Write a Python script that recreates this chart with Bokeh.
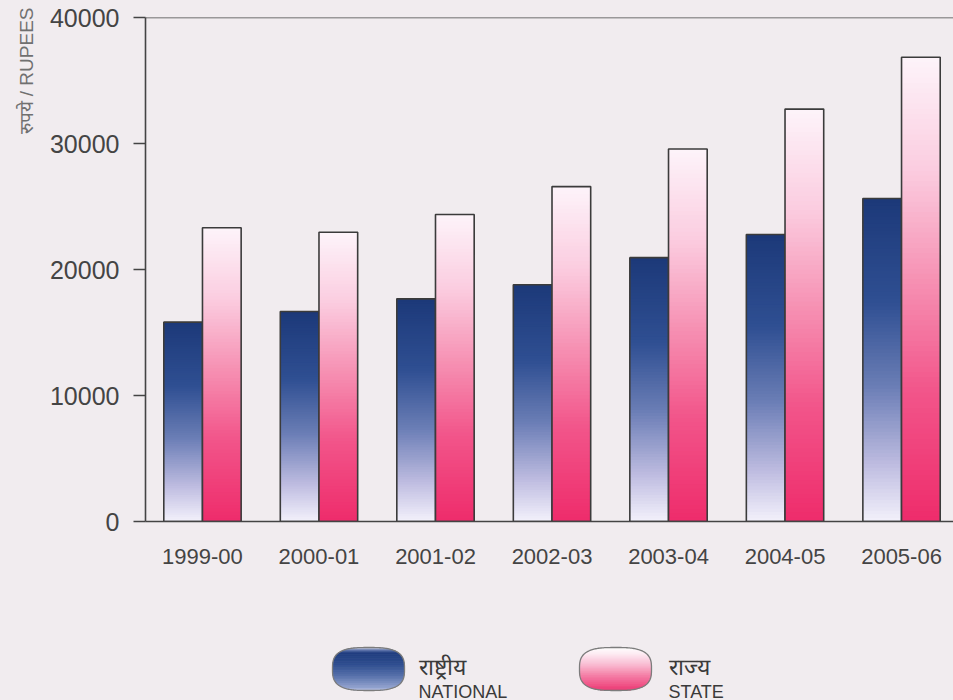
import numpy as np
from bokeh.plotting import figure
from bokeh.layouts import column
from bokeh.models import Range1d, FixedTicker, Span, Title, ColumnDataSource
from bokeh.core.properties import value
from bokeh.embed import file_html
from bokeh.resources import INLINE

# ---------------- data ----------------
years = ["1999-00", "2000-01", "2001-02", "2002-03", "2003-04", "2004-05", "2005-06"]
national = [15820, 16670, 17670, 18790, 20940, 22780, 25630]
state = [23310, 22960, 24360, 26580, 29560, 32730, 36850]
y_ticks = [0, 10000, 20000, 30000, 40000]
series_hi = ["राष्ट्रीय", "राज्य"]
series_en = ["NATIONAL", "STATE"]
y_label = "रुपये / RUPEES"

BG = "#f1ecef"
FONT = "Liberation Sans"


def hex2rgb(h):
    h = h.lstrip("#")
    return np.array([int(h[i:i + 2], 16) for i in (0, 2, 4)], dtype=float)


def grad(stops, ts):
    pos = np.array([s[0] for s in stops])
    cols = np.array([hex2rgb(s[1]) for s in stops])
    out = []
    for t in ts:
        rgb = [np.interp(t, pos, cols[:, c]) for c in range(3)]
        out.append("#%02x%02x%02x" % tuple(int(round(v)) for v in rgb))
    return out


# gradient stops: t = 0 at bar bottom, 1 at bar top
nat_stops = [(0.0, "#f3f1fb"), (0.18, "#bdbbe0"), (0.42, "#6a7db5"),
             (0.68, "#2f4f92"), (1.0, "#1c3979")]
st_stops = [(0.0, "#ee2c6b"), (0.28, "#f2558a"), (0.52, "#f691b3"),
            (0.76, "#fbcde0"), (1.0, "#fdf4fa")]

BAR_W = 0.332
N = 90

p = figure(width=953, height=608,
           x_range=Range1d(-0.489, 6.446), y_range=Range1d(0, 40000),
           output_backend="svg", toolbar_location=None,
           min_border_left=145, min_border_right=0, min_border_top=17,
           min_border_bottom=87)
p.background_fill_color = BG
p.border_fill_color = BG
p.outline_line_color = None
p.grid.visible = False

# gradient slices for each bar
for vals, stops, offset in ((national, nat_stops, -BAR_W), (state, st_stops, 0.0)):
    L, R, B, T, C = [], [], [], [], []
    ts = (np.arange(N) + 0.5) / N
    cols = grad(stops, ts)
    for i, v in enumerate(vals):
        for k in range(N):
            L.append(i + offset)
            R.append(i + offset + BAR_W)
            B.append(v * k / N)
            T.append(min(v, v * (k + 1.6) / N))
            C.append(cols[k])
    src = ColumnDataSource(dict(left=L, right=R, bottom=B, top=T, color=C))
    p.quad(left="left", right="right", bottom="bottom", top="top",
           fill_color="color", line_color=None, source=src)
    osrc = ColumnDataSource(dict(left=[i + offset for i in range(len(vals))],
                                 right=[i + offset + BAR_W for i in range(len(vals))],
                                 top=vals))
    p.quad(left="left", right="right", bottom=0, top="top", fill_color=None,
           line_color="#3b3b3b", line_width=1.6, source=osrc)

p.add_layout(Span(location=y_ticks[-1], dimension="width", line_color="#444444",
                  line_width=1.6))

# y axis
p.yaxis.ticker = FixedTicker(ticks=y_ticks)
p.yaxis.major_label_text_font = FONT
p.yaxis.major_label_text_font_size = "25px"
p.yaxis.major_label_text_color = "#444444"
p.yaxis.major_tick_out = 12
p.yaxis.major_tick_in = 0
p.yaxis.minor_tick_line_color = None
p.yaxis.major_tick_line_color = "#444444"
p.yaxis.major_tick_line_width = 1.5
p.yaxis.axis_line_color = "#444444"
p.yaxis.axis_line_width = 1.6
p.yaxis.major_label_standoff = 14

# x axis
p.xaxis.ticker = FixedTicker(ticks=list(range(len(years))))
p.xaxis.major_label_overrides = {i: y for i, y in enumerate(years)}
p.xaxis.major_label_text_font = FONT
p.xaxis.major_label_text_font_size = "22px"
p.xaxis.major_label_text_color = "#444444"
p.xaxis.major_tick_line_color = None
p.xaxis.minor_tick_line_color = None
p.xaxis.axis_line_color = "#444444"
p.xaxis.axis_line_width = 1.6
p.xaxis.major_label_standoff = 21

p.add_layout(Title(text=y_label, align="right", text_font=FONT,
                   text_font_size="19px", text_color="#707070",
                   text_font_style="normal", standoff=19, offset=-10), "left")

# ---------------- legend ----------------
lg = figure(width=953, height=92, x_range=Range1d(145, 953), y_range=Range1d(0, 92),
            output_backend="svg", toolbar_location=None,
            min_border_left=145, min_border_right=0, min_border_top=0,
            min_border_bottom=0)
lg.background_fill_color = BG
lg.border_fill_color = BG
lg.outline_line_color = None
lg.axis.visible = False
lg.grid.visible = False

pill_nat = [(0.0, "#c6cde8"), (0.07, "#93a3cf"), (0.35, "#5670aa"),
            (0.62, "#2e4d8e"), (0.88, "#213e7f"), (0.95, "#6379ae"), (1.0, "#cfd5ea")]
pill_st = [(0.0, "#e63a73"), (0.1, "#ef4a80"), (0.35, "#f47da5"),
           (0.6, "#f9b9d0"), (0.85, "#fde9f1"), (1.0, "#ffffff")]

cx_list = [368.0, 615.0]
cy, a, b, pw = 31.5, 36.0, 21.5, 3.0
for cx, stops in zip(cx_list, (pill_nat, pill_st)):
    M = 110
    ys = cy - b + (np.arange(M) + 0.5) * (2 * b / M)
    u = np.abs((ys - cy) / b)
    hw = a * (1 - u ** pw) ** (1 / pw)
    cols = grad(stops, (ys - (cy - b)) / (2 * b))
    lg.hbar(y=ys, height=2 * b / M * 2.5, left=cx - hw, right=cx + hw,
            fill_color=cols, line_color=None)
    th = np.linspace(0, 2 * np.pi, 200)
    ct, st_ = np.cos(th), np.sin(th)
    ox = cx + a * np.sign(ct) * np.abs(ct) ** (2 / pw)
    oy = cy + b * np.sign(st_) * np.abs(st_) ** (2 / pw)
    lg.patch(ox, oy, fill_color=None, line_color="#7c7c7c", line_width=1.3)

tx = [418, 668]
lg.text(x=tx, y=[34, 34], text=series_hi, text_font=value(FONT),
        text_font_size="23px", text_color="#3a3a3a", text_baseline="alphabetic")
lg.text(x=tx, y=[9, 9], text=series_en, text_font=value(FONT),
        text_font_size="18px", text_color="#3a3a3a", text_baseline="alphabetic")

layout = column(p, lg, spacing=0, styles={"background-color": BG})
open("out.html", "w").write(file_html(layout, INLINE))
